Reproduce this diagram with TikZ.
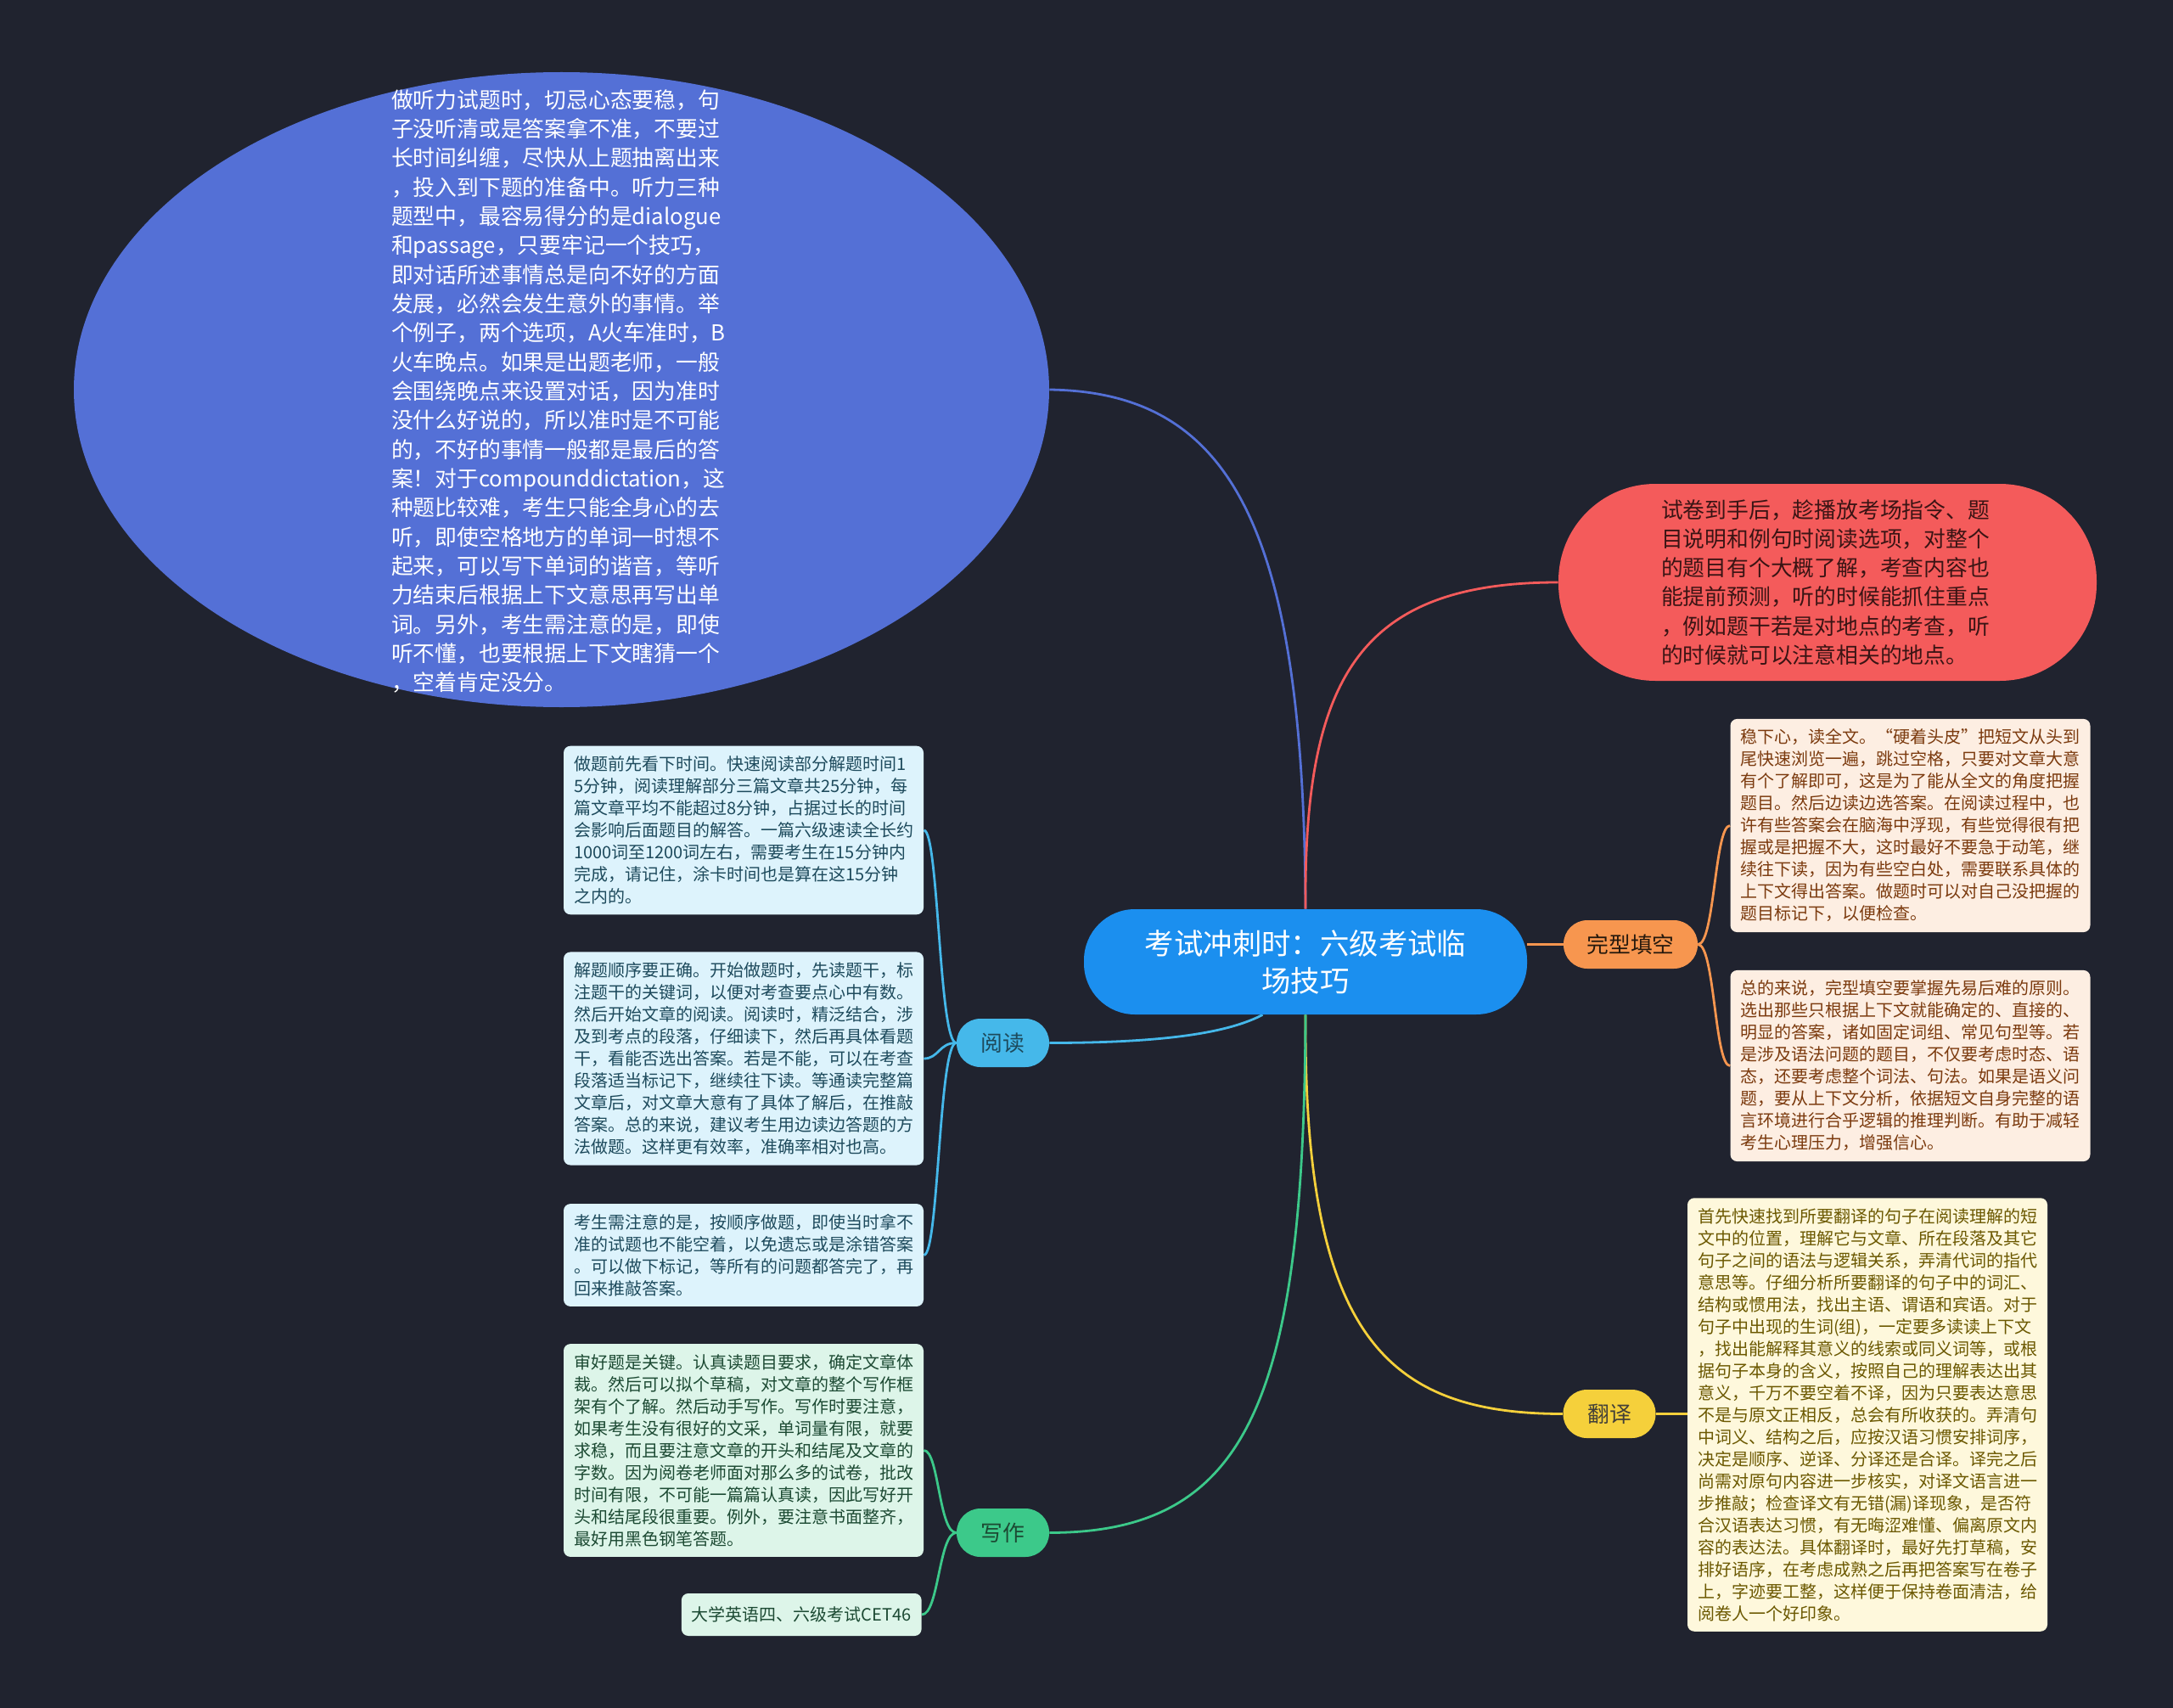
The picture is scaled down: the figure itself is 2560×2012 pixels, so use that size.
\documentclass[tikz,border=0pt]{standalone}
\usepackage{fontspec}
\setmainfont{Noto Sans CJK SC}
\usetikzlibrary{shapes.geometric}
\definecolor{bgc}{HTML}{20232F}
\definecolor{cE}{HTML}{5470D6}
\definecolor{cR}{HTML}{F45B5B}
\definecolor{cRt}{HTML}{3A1414}
\definecolor{cC}{HTML}{1B8FEF}
\definecolor{cO}{HTML}{F7964F}
\definecolor{cY}{HTML}{F5D03B}
\definecolor{cB}{HTML}{45B8EA}
\definecolor{cG}{HTML}{3CC98A}
\definecolor{fO}{HTML}{FDEEE2}
\definecolor{tO}{HTML}{7B3A0E}
\definecolor{fY}{HTML}{FEF8DC}
\definecolor{tY}{HTML}{6B5800}
\definecolor{fB}{HTML}{DDF3FC}
\definecolor{tB}{HTML}{1D4A5C}
\definecolor{fG}{HTML}{DDF5E9}
\definecolor{tG}{HTML}{1C4A33}
\pgfdeclarelayer{bglayer}
\pgfsetlayers{bglayer,main}
\begin{document}
\begin{tikzpicture}[x=0.5pt,y=-0.5pt,
  leafbox/.style={rounded corners=4pt, inner xsep=6pt, inner ysep=6pt, text width=200pt, align=left, font=\fontsize{10pt}{13pt}\selectfont},
  lab/.style={rounded corners=14pt, minimum height=28.5pt, minimum width=54.5pt, inner sep=2pt, font=\fontsize{12.9pt}{15pt}\selectfont},
  conn/.style={line width=1.4pt}
]
\begin{pgfonlayer}{bglayer}
\fill[bgc] (0,0) rectangle (2560,2012);
\end{pgfonlayer}
\useasboundingbox (0,0) rectangle (2560,2012);

% big ellipse
\node[ellipse, fill=cE, minimum width=574.5pt, minimum height=374pt, inner sep=0] (E) at (661.5,459) {};
\node[text=white, text width=207pt, align=left, inner sep=0, font=\fontsize{12.9pt}{17.17pt}\selectfont] (Et) at (668,461) {做听力试题时，切忌心态要稳，句\\子没听清或是答案拿不准，不要过\\长时间纠缠，尽快从上题抽离出来\\，投入到下题的准备中。听力三种\\题型中，最容易得分的是dialogue\\和passage，只要牢记一个技巧，\\即对话所述事情总是向不好的方面\\发展，必然会发生意外的事情。举\\个例子，两个选项，A火车准时，B\\火车晚点。如果是出题老师，一般\\会围绕晚点来设置对话，因为准时\\没什么好说的，所以准时是不可能\\的，不好的事情一般都是最后的答\\案！对于compounddictation，这\\种题比较难，考生只能全身心的去\\听，即使空格地方的单词一时想不\\起来，可以写下单词的谐音，等听\\力结束后根据上下文意思再写出单\\词。另外，考生需注意的是，即使\\听不懂，也要根据上下文瞎猜一个\\，空着肯定没分。};

% red node
\node[fill=cR, rounded corners=57pt, minimum width=317pt, minimum height=116pt, inner sep=0, text=cRt, text width=196pt, align=left, font=\fontsize{12.9pt}{17.1pt}\selectfont] (Rd) at (2153,686) {试卷到手后，趁播放考场指令、题\\目说明和例句时阅读选项，对整个\\的题目有个大概了解，考查内容也\\能提前预测，听的时候能抓住重点\\，例如题干若是对地点的考查，听\\的时候就可以注意相关的地点。};

% center
\node[fill=cC, rounded corners=30pt, minimum width=261pt, minimum height=62pt, text=white, align=center, font=\fontsize{17.2pt}{22pt}\selectfont] (C) at (1538,1133) {考试冲刺时：六级考试临\\场技巧};

% branch labels
\node[lab, fill=cO, minimum width=79pt, text=black!80!brown] (Cl) at (1921,1112.5) {完型填空};
\node[lab, fill=cY, text=black!85!yellow] (Tr) at (1896,1665.5) {翻译};
\node[lab, fill=cB, text=tB] (Rn) at (1181.5,1228.5) {阅读};
\node[lab, fill=cG, text=tG] (Wn) at (1181.5,1805.5) {写作};

% cloze boxes
\node[leafbox, fill=fO, text=tO] (B1) at (2250.5,972.5) {稳下心，读全文。“硬着头皮”把短文从头到\\尾快速浏览一遍，跳过空格，只要对文章大意\\有个了解即可，这是为了能从全文的角度把握\\题目。然后边读边选答案。在阅读过程中，也\\许有些答案会在脑海中浮现，有些觉得很有把\\握或是把握不大，这时最好不要急于动笔，继\\续往下读，因为有些空白处，需要联系具体的\\上下文得出答案。做题时可以对自己没把握的\\题目标记下，以便检查。};
\node[leafbox, fill=fO, text=tO] (B2) at (2250.5,1255.5) {总的来说，完型填空要掌握先易后难的原则。\\选出那些只根据上下文就能确定的、直接的、\\明显的答案，诸如固定词组、常见句型等。若\\是涉及语法问题的题目，不仅要考虑时态、语\\态，还要考虑整个词法、句法。如果是语义问\\题，要从上下文分析，依据短文自身完整的语\\言环境进行合乎逻辑的推理判断。有助于减轻\\考生心理压力，增强信心。};

% translation box
\node[leafbox, fill=fY, text=tY] (T) at (2200,1666.5) {首先快速找到所要翻译的句子在阅读理解的短\\文中的位置，理解它与文章、所在段落及其它\\句子之间的语法与逻辑关系，弄清代词的指代\\意思等。仔细分析所要翻译的句子中的词汇、\\结构或惯用法，找出主语、谓语和宾语。对于\\句子中出现的生词(组)，一定要多读读上下文\\，找出能解释其意义的线索或同义词等，或根\\据句子本身的含义，按照自己的理解表达出其\\意义，千万不要空着不译，因为只要表达意思\\不是与原文正相反，总会有所收获的。弄清句\\中词义、结构之后，应按汉语习惯安排词序，\\决定是顺序、逆译、分译还是合译。译完之后\\尚需对原句内容进一步核实，对译文语言进一\\步推敲；检查译文有无错(漏)译现象，是否符\\合汉语表达习惯，有无晦涩难懂、偏离原文内\\容的表达法。具体翻译时，最好先打草稿，安\\排好语序，在考虑成熟之后再把答案写在卷子\\上，字迹要工整，这样便于保持卷面清洁，给\\阅卷人一个好印象。};

% reading boxes
\node[leafbox, fill=fB, text=tB] (R1) at (876,978) {做题前先看下时间。快速阅读部分解题时间1\\5分钟，阅读理解部分三篇文章共25分钟，每\\篇文章平均不能超过8分钟，占据过长的时间\\会影响后面题目的解答。一篇六级速读全长约\\1000词至1200词左右，需要考生在15分钟内\\完成，请记住，涂卡时间也是算在这15分钟\\之内的。};
\node[leafbox, fill=fB, text=tB] (R2) at (876,1247) {解题顺序要正确。开始做题时，先读题干，标\\注题干的关键词，以便对考查要点心中有数。\\然后开始文章的阅读。阅读时，精泛结合，涉\\及到考点的段落，仔细读下，然后再具体看题\\干，看能否选出答案。若是不能，可以在考查\\段落适当标记下，继续往下读。等通读完整篇\\文章后，对文章大意有了具体了解后，在推敲\\答案。总的来说，建议考生用边读边答题的方\\法做题。这样更有效率，准确率相对也高。};
\node[leafbox, fill=fB, text=tB] (R3) at (876,1478.5) {考生需注意的是，按顺序做题，即使当时拿不\\准的试题也不能空着，以免遗忘或是涂错答案\\。可以做下标记，等所有的问题都答完了，再\\回来推敲答案。};

% writing boxes
\node[leafbox, fill=fG, text=tG] (W1) at (876,1708.5) {审好题是关键。认真读题目要求，确定文章体\\裁。然后可以拟个草稿，对文章的整个写作框\\架有个了解。然后动手写作。写作时要注意，\\如果考生没有很好的文采，单词量有限，就要\\求稳，而且要注意文章的开头和结尾及文章的\\字数。因为阅卷老师面对那么多的试卷，批改\\时间有限，不可能一篇篇认真读，因此写好开\\头和结尾段很重要。例外，要注意书面整齐，\\最好用黑色钢笔答题。};
\node[rounded corners=4pt, inner xsep=6pt, minimum height=25pt, fill=fG, text=tG, font=\fontsize{10pt}{13pt}\selectfont, anchor=east] (W2) at (1086,1902) {大学英语四、六级考试CET46};

\begin{pgfonlayer}{bglayer}
\draw[conn, cE] (E.east) .. controls (1450,462) and (1536,620) .. (C.north);
\draw[conn, cR] (C.north) .. controls (1536,800) and (1600,686) .. (Rd.west);
\draw[conn, cO] (Cl.west -| C.east) -- (Cl.west);
\draw[conn, cO] (Cl.east) .. controls (2020,1112.5) and (2020,972.5) .. (B1.west);
\draw[conn, cO] (Cl.east) .. controls (2020,1112.5) and (2020,1255.5) .. (B2.west);
\draw[conn, cY] (C.south) .. controls (1536,1570) and (1630,1665.5) .. (Tr.west);
\draw[conn, cY] (Tr.east) -- (Tr.east -| T.west);
\draw[conn, cB] (Rn.east) .. controls (1380,1228.5) and (1450,1215) .. (C.231);
\draw[conn, cB] (Rn.west) .. controls (1106,1228.5) and (1106,978) .. (R1.east);
\draw[conn, cB] (Rn.west) .. controls (1106,1228.5) and (1106,1247) .. (R2.east);
\draw[conn, cB] (Rn.west) .. controls (1106,1228.5) and (1106,1478.5) .. (R3.east);
\draw[conn, cG] (C.south) .. controls (1536,1650) and (1470,1805.5) .. (Wn.east);
\draw[conn, cG] (Wn.west) .. controls (1106,1805.5) and (1106,1708.5) .. (W1.east);
\draw[conn, cG] (Wn.west) .. controls (1106,1805.5) and (1106,1902) .. (W2.east);
\end{pgfonlayer}
\end{tikzpicture}
\end{document}
